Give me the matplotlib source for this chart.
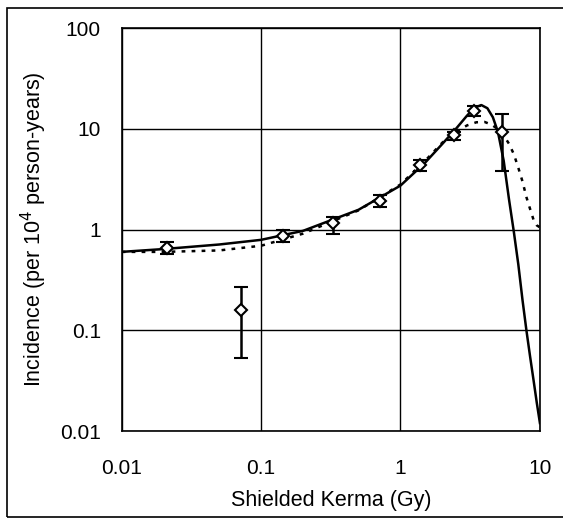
import numpy as np
import matplotlib.pyplot as plt
from matplotlib.patches import Rectangle

plt.rcParams['font.family'] = ['Liberation Sans', 'DejaVu Sans']

# observed incidence with error bars
dose = [0.021, 0.072, 0.143, 0.33, 0.71, 1.39, 2.43, 3.38, 5.32]
rate = [0.65, 0.16, 0.87, 1.16, 1.94, 4.4, 8.6, 15.1, 9.3]
err_lo = [0.57, 0.053, 0.75, 0.90, 1.66, 3.85, 7.65, 13.5, 3.85]
err_hi = [0.75, 0.27, 0.98, 1.32, 2.18, 4.85, 9.25, 17.0, 14.1]

# fitted model (solid)
fit1_x = [0.01, 0.02, 0.05, 0.1, 0.2, 0.5, 1.0, 1.5, 2.0, 2.5, 3.0, 3.4, 3.8,
          4.2, 4.6, 5.0, 5.5, 6.0, 6.5, 7.0, 7.5, 8.0, 8.5, 9.0, 9.5, 10.0]
fit1_y = [0.60, 0.64, 0.71, 0.79, 0.97, 1.57, 2.73, 4.6, 7.1, 10.0, 13.5, 16.2, 17.2,
          16.0, 13.0, 9.3, 4.8, 2.0, 0.95, 0.45, 0.2, 0.1, 0.055, 0.032, 0.019, 0.012]

# fitted model (dotted)
fit2_x = [0.01, 0.02, 0.05, 0.1, 0.2, 0.5, 1.0, 1.5, 2.0, 2.5, 3.0, 3.5, 4.0,
          4.5, 5.0, 5.5, 6.0, 6.5, 7.0, 7.5, 8.0, 8.5, 9.0, 9.5, 10.0]
fit2_y = [0.60, 0.60, 0.62, 0.69, 0.91, 1.55, 2.8, 4.8, 7.3, 9.3, 10.8, 11.6, 11.7,
          11.0, 9.9, 8.6, 7.1, 5.6, 4.1, 3.0, 2.1, 1.6, 1.25, 1.1, 1.05]

fig = plt.figure(figsize=(5.63, 5.21), dpi=100)
ax = fig.add_axes([0.216, 0.1727, 0.743, 0.7735])

ax.plot(fit1_x, fit1_y, color='black', lw=1.8, zorder=3)
ax.plot(fit2_x, fit2_y, color='black', lw=1.8, ls=(0, (1.5, 2.5)), zorder=3)

yerr = [np.array(rate) - np.array(err_lo), np.array(err_hi) - np.array(rate)]
ax.errorbar(dose, rate, yerr=yerr, fmt='D', ms=6, mfc='white', mec='black',
            mew=1.5, ecolor='black', elinewidth=1.8, capsize=5, capthick=1.8,
            zorder=4)

ax.set_xscale('log')
ax.set_yscale('log')
ax.set_xlim(0.01, 10)
ax.set_ylim(0.01, 100)
ax.set_xticks([0.01, 0.1, 1, 10])
ax.set_xticklabels(['0.01', '0.1', '1', '10'])
ax.set_yticks([0.01, 0.1, 1, 10, 100])
ax.set_yticklabels(['0.01', '0.1', '1', '10', '100'])
ax.minorticks_off()
ax.tick_params(axis='x', length=0, labelsize=15, pad=20)
ax.tick_params(axis='y', length=0, labelsize=15, pad=15)
ax.grid(True, color='black', lw=1)
for s in ax.spines.values():
    s.set_linewidth(1.2)

ax.set_xlabel('Shielded Kerma (Gy)', fontsize=15.5, labelpad=9)
ax.set_ylabel('Incidence (per 10$^4$ person-years)', fontsize=15.5, labelpad=8)

# outer frame around the figure
fig.patches.append(Rectangle((7 / 563, 4 / 521), 560 / 563, 509 / 521,
                             transform=fig.transFigure, fill=False,
                             edgecolor='black', lw=1.2))

fig.savefig('out.png', dpi=100)
